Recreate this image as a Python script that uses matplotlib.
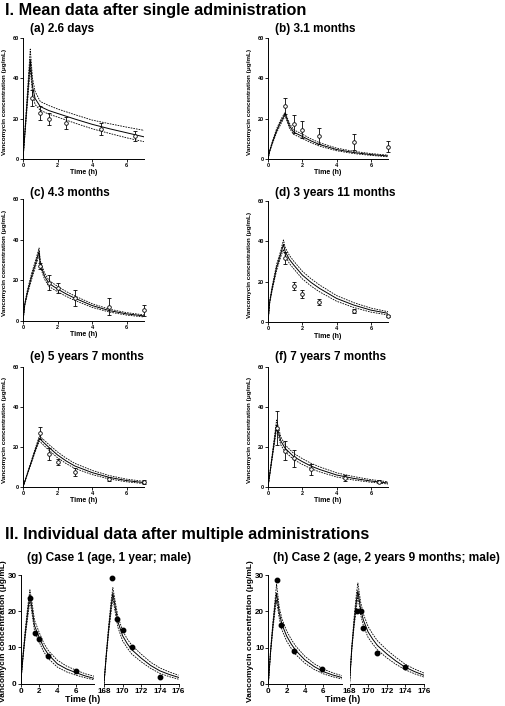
import matplotlib
matplotlib.use("Agg")
import matplotlib.pyplot as plt

plt.rcParams['font.family'] = ['Liberation Sans', 'DejaVu Sans']
plt.rcParams['font.weight'] = 'bold'

W, H = 505, 706

# ---- I. mean data after single administration ----
# observed (mean, SD)
a_t = [0.5, 1, 1.5, 2.5, 4.5, 6.5]
a_c = [30.2, 22.9, 19.8, 17.8, 14.8, 11.4]
a_e = [3.8, 3.4, 3.0, 3.0, 3.0, 2.3]
b_t = [1, 1.5, 2, 3, 5, 7]
b_c = [26.2, 17.4, 14.6, 11.4, 8.4, 6.1]
b_e = [4.0, 4.6, 4.0, 3.9, 3.9, 2.6]
c_t = [1, 1.5, 2, 3, 5, 7]
c_c = [27.0, 18.9, 16.1, 11.2, 7.0, 5.4]
c_e = [1.5, 3.7, 2.5, 4.0, 4.1, 2.7]
d_t = [1, 1.5, 2, 3, 5, 7]
d_c = [31.6, 18.0, 13.7, 9.8, 5.6, 3.0]
d_e = [3.0, 2.0, 2.0, 1.5, 1.0, 0.6]
e_t = [1, 1.5, 2, 3, 5, 7]
e_c = [27.2, 16.5, 12.7, 7.5, 4.0, 2.3]
e_e = [3.0, 2.8, 1.5, 1.8, 1.0, 1.0]
f_t = [0.5, 1, 1.5, 2.5, 4.5, 6.5]
f_c = [29.3, 18.2, 14.3, 8.8, 4.7, 2.6]
f_e = [8.5, 4.6, 4.3, 2.7, 1.5, 0.8]

# model predictions (mean, upper, lower)
a_ft = [0, 0.42, 0.55, 0.7, 1, 1.5, 2, 3, 4, 5, 6, 7]
a_fm = [0, 49.5, 36, 30, 26, 24, 22.6, 19.8, 17.2, 15, 13, 11]
a_fh = [0, 54.5, 40, 33.5, 28.5, 26.5, 24.8, 22, 19.3, 17.5, 15.8, 14.2]
a_fl = [0, 45, 32.5, 27, 24.2, 22.2, 20.8, 17.8, 15, 12.7, 10.5, 8.6]

b_ft = [0, 0.1, 0.25, 0.5, 0.75, 1, 1.25, 1.5, 2, 2.5, 3, 4, 5, 6, 7]
b_fm = [0, 4, 8, 14, 18.5, 22.3, 16.5, 13.3, 11.2, 9, 7.2, 4.7, 3.2, 2.2, 1.5]
b_fh = [0, 4.3, 8.6, 15, 19.6, 23.2, 17.7, 14.5, 12.3, 10, 8.1, 5.4, 3.8, 2.7, 1.9]
b_fl = [0, 3.7, 7.4, 13, 17.4, 21.4, 15.3, 12.2, 10.2, 8.1, 6.4, 4.1, 2.7, 1.8, 1.1]

c_ft = [0, 0.1, 0.25, 0.5, 0.75, 0.93, 1.0, 1.25, 1.5, 2, 2.5, 3, 4, 5, 6, 7]
c_fm = [0, 8, 14, 22, 29, 34.3, 28, 22, 18.5, 15.7, 13.3, 11.2, 7.6, 5.1, 3.5, 2.5]
c_fh = [0, 8.5, 15, 23.5, 30.5, 35.9, 29.5, 23.5, 20, 17, 14.5, 12.3, 8.5, 5.8, 4.1, 3]
c_fl = [0, 7.5, 13, 20.5, 27.5, 32.5, 26.5, 20.5, 17, 14.4, 12.1, 10.1, 6.7, 4.4, 2.9, 2]

d_ft = [0, 0.1, 0.25, 0.5, 0.75, 0.9, 1.0, 1.25, 1.5, 2, 2.5, 3, 4, 5, 6, 7]
d_fm = [0, 10, 17, 27, 34, 38.5, 35, 31, 28.3, 23.3, 19.7, 16.7, 11.7, 8.4, 5.9, 4.3]
d_fh = [0, 10.5, 18, 28.5, 35.5, 40.7, 37, 33, 30.2, 25.2, 21.5, 18.4, 13.1, 9.6, 6.9, 5.1]
d_fl = [0, 9.5, 16, 25.5, 32.5, 36, 33, 29, 26.4, 21.4, 17.9, 15, 10.3, 7.2, 4.9, 3.5]

e_ft = [0, 0.25, 0.5, 0.75, 0.95, 1.25, 1.5, 2, 2.5, 3, 4, 5, 6, 7]
e_fm = [0, 6.5, 13, 19.5, 24.3, 21.8, 19.8, 16, 13, 10.5, 7.2, 4.8, 3.2, 2.2]
e_fh = [0, 6.8, 13.6, 20.4, 25.5, 23.2, 21.2, 17.5, 14.4, 11.8, 8.3, 5.7, 3.9, 2.8]
e_fl = [0, 6.2, 12.4, 18.6, 23, 20.4, 18.4, 14.6, 11.7, 9.3, 6.2, 4, 2.6, 1.7]

f_ft = [0, 0.25, 0.5, 0.75, 1, 1.5, 2, 2.5, 3, 4, 5, 6, 7]
f_fm = [0, 15.5, 31, 23, 19.3, 15.2, 12.7, 10.5, 8.8, 6, 4.3, 3, 2]
f_fh = [0, 16.5, 33.5, 25, 21, 16.8, 14.2, 11.9, 10.1, 7.1, 5.2, 3.7, 2.6]
f_fl = [0, 14.5, 29, 21, 17.6, 13.7, 11.3, 9.2, 7.6, 5, 3.5, 2.4, 1.5]

top_titles = ["(a) 2.6 days", "(b) 3.1 months", "(c) 4.3 months",
              "(d) 3 years 11 months", "(e) 5 years 7 months", "(f) 7 years 7 months"]

# ---- II. individual data after multiple administrations ----
g_t1 = [1, 1.5, 2, 3, 6]
g_c1 = [23.7, 14.0, 12.4, 7.7, 3.5]
g_t2 = [168.9, 169.4, 170, 171, 174]
g_c2 = [29.3, 17.7, 14.9, 10.1, 1.7]
h_t1 = [0.9, 1.4, 2.8, 5.8]
h_c1 = [28.5, 16.3, 9.2, 4.0]
h_t2 = [168.8, 169.2, 169.5, 171, 174]
h_c2 = [20.2, 20.0, 15.3, 8.5, 4.8]

g_ft1 = [0, 0.25, 0.5, 0.75, 1, 1.25, 1.5, 2, 2.5, 3, 4, 5, 6, 7, 8]
g_fm1 = [0, 7.5, 14, 19.5, 24.5, 20.5, 16, 12.8, 10, 8, 5.4, 4.0, 3.0, 2.1, 1.4]
g_fh1 = [0, 8, 15, 21, 25.9, 22, 17.5, 14.2, 11.2, 9.1, 6.4, 4.8, 3.7, 2.7, 2.0]
g_fl1 = [0, 7, 13, 18, 23, 19, 14.6, 11.5, 8.8, 6.9, 4.5, 3.2, 2.3, 1.6, 1.0]
g_ft2 = [168, 168.25, 168.5, 168.75, 168.95, 169.25, 169.5, 170, 170.5, 171, 172, 173, 174, 175, 176]
g_fm2 = [0, 8, 15, 21, 25, 20.5, 17, 13.2, 11, 9.3, 7, 5.0, 3.5, 2.5, 1.7]
g_fh2 = [0, 8.5, 16, 22.5, 26.5, 22, 18.5, 14.6, 12.3, 10.5, 8.1, 5.9, 4.3, 3.2, 2.3]
g_fl2 = [0, 7.5, 14, 19.5, 23.5, 19, 15.5, 11.8, 9.8, 8.1, 6.0, 4.2, 2.8, 1.9, 1.2]

h_ft1 = [0, 0.25, 0.5, 0.75, 0.9, 1.2, 1.5, 2, 2.5, 3, 4, 5, 6, 7, 8]
h_fm1 = [0, 9, 16, 22, 25, 19.5, 16.3, 13.2, 11, 9.2, 6.6, 4.8, 3.4, 2.5, 1.8]
h_fh1 = [0, 9.5, 17, 23.5, 27.5, 21, 17.8, 14.6, 12.3, 10.4, 7.6, 5.6, 4.1, 3.1, 2.3]
h_fl1 = [0, 8.5, 15, 20.5, 23, 18, 14.8, 11.8, 9.8, 8.1, 5.7, 4.0, 2.8, 2.0, 1.4]
h_ft2 = [168, 168.25, 168.5, 168.75, 168.9, 169.2, 169.5, 170, 170.5, 171, 172, 173, 174, 175, 176]
h_fm2 = [0, 10, 17, 23, 25.7, 20.5, 17.5, 14.3, 12.3, 10.6, 8.3, 6.3, 4.6, 3.4, 2.4]
h_fh2 = [0, 10.5, 18.5, 25, 27.8, 22.5, 19.2, 15.8, 13.7, 11.9, 9.4, 7.3, 5.4, 4.1, 3.0]
h_fl2 = [0, 9.5, 16, 21, 24.3, 19, 16, 12.8, 11, 9.4, 7.2, 5.4, 3.9, 2.8, 1.9]

ylab = "Vancomycin concentration (\u03bcg/mL)"

fig = plt.figure(figsize=(W / 100, H / 100), dpi=100)


def px_axes(left, top, right, bottom):
    return fig.add_axes([left / W, 1 - bottom / H, (right - left) / W, (bottom - top) / H])


def ftext(x, y, s, **kw):
    fig.text(x / W, 1 - y / H, s, **kw)


def style(ax, fs):
    for s in ["top", "right"]:
        ax.spines[s].set_visible(False)
    for s in ["left", "bottom"]:
        ax.spines[s].set_linewidth(0.7)
    ax.tick_params(direction="out", length=2, width=0.6, labelsize=fs, pad=1)
    for lb in ax.get_xticklabels() + ax.get_yticklabels():
        lb.set_fontweight("bold")


def fit_lines(ax, t, m, hi, lo):
    ax.plot(t, m, color="black", lw=0.7)
    ax.plot(t, hi, color="black", lw=0.6, ls=(0, (2, 1.2)))
    ax.plot(t, lo, color="black", lw=0.6, ls=(0, (2, 1.2)))


ftext(5, 11, "I. Mean data after single administration", fontsize=11.7, fontweight="bold", va="center")

top_boxes = [(23, 38, 144, 159), (268, 38, 388, 159),
             (23, 199, 144, 321), (268, 201, 388, 322),
             (23, 367, 144, 487), (268, 367, 388, 487)]
title_y = [29, 29, 193, 193, 357, 357]
obs = [(a_t, a_c, a_e), (b_t, b_c, b_e), (c_t, c_c, c_e),
       (d_t, d_c, d_e), (e_t, e_c, e_e), (f_t, f_c, f_e)]
fits = [(a_ft, a_fm, a_fh, a_fl), (b_ft, b_fm, b_fh, b_fl), (c_ft, c_fm, c_fh, c_fl),
        (d_ft, d_fm, d_fh, d_fl), (e_ft, e_fm, e_fh, e_fl), (f_ft, f_fm, f_fh, f_fl)]

for i, box in enumerate(top_boxes):
    ax = px_axes(*box)
    fit_lines(ax, *fits[i])
    t, c, e = obs[i]
    eb = ax.errorbar(t, c, yerr=e, fmt="o", ms=2.6, mfc="white", mec="black", mew=0.6,
                     ecolor="black", elinewidth=0.6, capsize=1.5, capthick=0.6, zorder=5)
    for art in eb.lines[0:1] + tuple(eb.lines[1]) + tuple(eb.lines[2]):
        art.set_clip_on(False)
    ax.set_xlim(0, 7)
    ax.set_ylim(0, 60)
    ax.set_xticks([0, 2, 4, 6])
    ax.set_yticks([0, 20, 40, 60])
    style(ax, 4)
    left = box[0]
    ftext(left + 7, title_y[i], top_titles[i], fontsize=8.5, fontweight="bold", va="center")
    ftext(left - 18, (box[1] + box[3]) / 2 + 3, ylab, fontsize=4.6, fontweight="bold",
          rotation=90, va="center", ha="center")
    ftext((box[0] + box[2]) / 2, box[3] + 14, "Time (h)", fontsize=5, fontweight="bold",
          ha="center", va="center")

ftext(5, 535, "II. Individual data after multiple administrations", fontsize=11.7,
      fontweight="bold", va="center")

bottom = [
    dict(b1=(20.7, 575, 94.3, 683.5), b2=(104, 575, 178.5, 683.5), title="(g) Case 1 (age, 1 year; male)",
         tx=27, xl=83, yl=4,
         o1=(g_t1, g_c1), o2=(g_t2, g_c2),
         f1=(g_ft1, g_fm1, g_fh1, g_fl1), f2=(g_ft2, g_fm2, g_fh2, g_fl2)),
    dict(b1=(268.3, 575, 341.7, 684), b2=(349.5, 575, 424, 684), title="(h) Case 2 (age, 2 years 9 months; male)",
         tx=273, xl=343, yl=250,
         o1=(h_t1, h_c1), o2=(h_t2, h_c2),
         f1=(h_ft1, h_fm1, h_fh1, h_fl1), f2=(h_ft2, h_fm2, h_fh2, h_fl2)),
]

for p in bottom:
    ax1 = px_axes(*p["b1"])
    ax2 = px_axes(*p["b2"])
    fit_lines(ax1, *p["f1"])
    fit_lines(ax2, *p["f2"])
    ax1.plot(*p["o1"], "o", color="black", ms=3.2, zorder=5)
    ax2.plot(*p["o2"], "o", color="black", ms=3.2, zorder=5)
    ax1.set_xlim(0, 8)
    ax2.set_xlim(168, 176)
    ax1.set_xticks([0, 2, 4, 6])
    ax2.set_xticks([168, 170, 172, 174, 176])
    for ax in (ax1, ax2):
        ax.set_ylim(0, 30)
        ax.set_yticks([0, 10, 20, 30])
    style(ax1, 5.8)
    style(ax2, 5.8)
    ax2.spines["left"].set_visible(False)
    ax2.tick_params(axis="y", left=False, labelleft=False)
    ftext(p["tx"], 558, p["title"], fontsize=8.6, fontweight="bold", va="center")
    ftext(p["xl"], 699, "Time (h)", fontsize=6.5, fontweight="bold", ha="center", va="center")
    ftext(p["yl"], 631, ylab, fontsize=6, fontweight="bold", rotation=90, ha="center", va="center")

fig.savefig("out.png", dpi=100)
